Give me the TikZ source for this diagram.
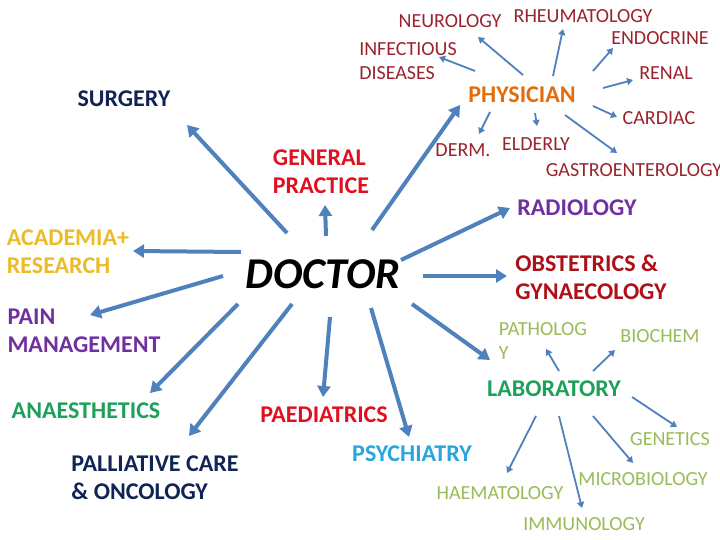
\documentclass[tikz,border=0pt]{standalone}
\usepackage{fontspec}
\setmainfont{Carlito}
\usetikzlibrary{arrows.meta, calc}
\definecolor{arrowblue}{RGB}{79,129,189}
\definecolor{navy}{RGB}{16,37,84}
\definecolor{brick}{RGB}{155,35,45}
\definecolor{darkred}{RGB}{175,15,25}
\definecolor{brightred}{RGB}{224,16,32}
\definecolor{orange}{RGB}{228,108,10}
\definecolor{lila}{RGB}{112,48,160}
\definecolor{gold}{RGB}{236,188,40}
\definecolor{leaf}{RGB}{30,160,90}
\definecolor{lightgreen}{RGB}{155,187,89}
\definecolor{sky}{RGB}{40,165,220}

\begin{document}
\begin{tikzpicture}[x=1pt,y=-1pt,
	mainlbl/.style={inner sep=0pt,align=left,font=\fontsize{24}{28}\selectfont\bfseries},
	sublbl/.style={inner sep=0pt,align=left,font=\fontsize{20}{24}\selectfont},
	bigarrow/.style={arrowblue,line width=4pt,-{Triangle[length=11pt,width=13pt]}},
	thinarrow/.style={arrowblue,line width=1.8pt,-{Triangle[length=6pt,width=7pt]}}]
		\fill[white] (0,0) rectangle (720,540);
		\useasboundingbox (0,0) rectangle (720,540);
		
		%----------------------------------------------------------------
		\node(doctor) [inner sep=0pt,font=\fontsize{44}{48}\selectfont\bfseries\itshape] at (323,274) {DOCTOR};
		
		\node(surgery) [mainlbl,navy] at (124,99) {SURGERY};
		\node(gp) [mainlbl,brightred] at (321,172) {GENERAL\\PRACTICE};
		\node(academia) [mainlbl,gold] at (68,252) {ACADEMIA+\\RESEARCH};
		\node(pain) [mainlbl,lila] at (84,331) {PAIN\\MANAGEMENT};
		\node(anaes) [mainlbl,leaf] at (86,411) {ANAESTHETICS};
		\node(palliative) [mainlbl,navy] at (155,478) {PALLIATIVE CARE\\\& ONCOLOGY};
		\node(paed) [mainlbl,brightred] at (324,415) {PAEDIATRICS};
		\node(psych) [mainlbl,sky] at (412,454) {PSYCHIATRY};
		\node(lab) [mainlbl,leaf] at (554,389) {LABORATORY};
		\node(obst) [mainlbl,darkred] at (591,277) {OBSTETRICS \&\\GYNAECOLOGY};
		\node(radiology) [mainlbl,lila] at (577,208) {RADIOLOGY};
		\node(physician) [mainlbl,orange] at (522,95) {PHYSICIAN};
		
		%----------------------------------------------------------------
		\node(neuro) [sublbl,brick] at (450,21) {NEUROLOGY};
		\node(rheum) [sublbl,brick] at (583,16) {RHEUMATOLOGY};
		\node(endo) [sublbl,brick] at (660,38) {ENDOCRINE};
		\node(infect) [sublbl,brick] at (408,61) {INFECTIOUS\\DISEASES};
		\node(renal) [sublbl,brick] at (666,73) {RENAL};
		\node(cardiac) [sublbl,brick] at (659,118) {CARDIAC};
		\node(derm) [sublbl,brick] at (463,150) {DERM.};
		\node(elderly) [sublbl,brick] at (536,144) {ELDERLY};
		\node(gastro) [sublbl,brick] at (634,170) {GASTROENTEROLOGY};
		
		%----------------------------------------------------------------
		\node(path) [sublbl,lightgreen] at (543,341) {PATHOLOG\\Y};
		\node(biochem) [sublbl,lightgreen] at (660,336) {BIOCHEM};
		\node(genetics) [sublbl,lightgreen] at (670,439) {GENETICS};
		\node(micro) [sublbl,lightgreen] at (643,479) {MICROBIOLOGY};
		\node(haem) [sublbl,lightgreen] at (500,493) {HAEMATOLOGY};
		\node(immuno) [sublbl,lightgreen] at (584,524) {IMMUNOLOGY};
		
		%----------------------------------------------------------------
		\draw [bigarrow] ($(doctor)+(-36,-41)$) -- ($(surgery)+(63,26)$);
		\draw [bigarrow] ($(doctor)+(3,-38)$) -- ($(gp)+(4,33)$);
		\draw [bigarrow] ($(doctor)+(49,-44)$) -- ($(physician)+(-62,10)$);
		\draw [bigarrow] ($(doctor)+(-82,-22)$) -- ($(academia)+(65,-1)$);
		\draw [bigarrow] ($(doctor)+(-100,2)$) -- ($(pain)+(6,-16)$);
		\draw [bigarrow] ($(doctor)+(-85,30)$) -- ($(anaes)+(64,-18)$);
		\draw [bigarrow] ($(doctor)+(-31,30)$) -- ($(palliative)+(34,-42)$);
		\draw [bigarrow] ($(doctor)+(7,43)$) -- ($(paed)+(-1,-18)$);
		\draw [bigarrow] ($(doctor)+(48,34)$) -- ($(psych)+(-3,-17)$);
		\draw [bigarrow] ($(doctor)+(89,30)$) -- ($(lab)+(-64,-29)$);
		\draw [bigarrow] ($(doctor)+(100,2)$) -- ($(obst)+(-84,-1)$);
		\draw [bigarrow] ($(doctor)+(78,-14)$) -- ($(radiology)+(-67,0)$);
		
		%----------------------------------------------------------------
		\draw [thinarrow] ($(physician)+(1,-20)$) -- ($(neuro)+(28,16)$);
		\draw [thinarrow] ($(physician)+(-47,-24)$) -- ($(infect)+(31,-4)$);
		\draw [thinarrow] ($(physician)+(31,-19)$) -- ($(rheum)+(-20,13)$);
		\draw [thinarrow] ($(physician)+(71,-24)$) -- ($(endo)+(-47,10)$);
		\draw [thinarrow] ($(physician)+(81,-7)$) -- ($(renal)+(-33,7)$);
		\draw [thinarrow] ($(physician)+(71,11)$) -- ($(cardiac)+(-42,-1)$);
		\draw [thinarrow] ($(physician)+(-32,17)$) -- ($(derm)+(16,-16)$);
		\draw [thinarrow] ($(physician)+(13,18)$) -- ($(elderly)+(1,-18)$);
		\draw [thinarrow] ($(physician)+(43,20)$) -- ($(gastro)+(-17,-17)$);
		
		%----------------------------------------------------------------
		\draw [thinarrow] ($(lab)+(5,-18)$) -- ($(path)+(3,8)$);
		\draw [thinarrow] ($(lab)+(39,-18)$) -- ($(biochem)+(-45,14)$);
		\draw [thinarrow] ($(lab)+(78,8)$) -- ($(genetics)+(7,-12)$);
		\draw [thinarrow] ($(lab)+(39,27)$) -- ($(micro)+(-10,-16)$);
		\draw [thinarrow] ($(lab)+(5,27)$) -- ($(immuno)+(-2,-16)$);
		\draw [thinarrow] ($(lab)+(-18,27)$) -- ($(haem)+(7,-20)$);
		
	\end{tikzpicture}
\end{document}
